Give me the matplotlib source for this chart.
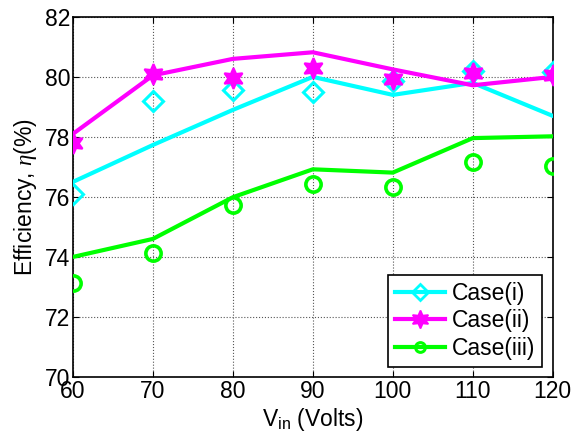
import matplotlib
matplotlib.use("Agg")
import matplotlib.pyplot as plt
from matplotlib.lines import Line2D

plt.rcParams['font.family'] = ['Liberation Sans', 'DejaVu Sans']
plt.rcParams['mathtext.fontset'] = 'custom'
plt.rcParams['mathtext.rm'] = 'Liberation Sans'
plt.rcParams['mathtext.it'] = 'Liberation Serif:italic'

vin = [60, 70, 80, 90, 100, 110, 120]

case1_fit = [76.5, 77.73, 78.9, 80.0, 79.4, 79.8, 78.7]
case1_pts = [76.1, 79.18, 79.55, 79.5, 79.85, 80.2, 80.15]

case2_fit = [78.1, 80.05, 80.6, 80.82, 80.25, 79.72, 80.0]
case2_pts = [77.8, 80.1, 79.95, 80.3, 79.92, 80.12, 80.05]

case3_fit = [74.0, 74.6, 75.99, 76.92, 76.81, 77.96, 78.02]
case3_pts = [73.13, 74.14, 75.74, 76.43, 76.32, 77.18, 77.03]

labels = ['Case(i)', 'Case(ii)', 'Case(iii)']
colors = ['#00ffff', '#ff00ff', '#00ff00']
markers = ['D', (6, 1, 0), 'o']
xticks = [60, 70, 80, 90, 100, 110, 120]
yticks = [70, 72, 74, 76, 78, 80, 82]

fig = plt.figure(figsize=(5.74, 4.44), dpi=100)
ax = fig.add_axes([0.127, 0.151, 0.836, 0.811])

fits = [case1_fit, case2_fit, case3_fit]
pts = [case1_pts, case2_pts, case3_pts]
handles = []
for fit, p, c, m, lab in zip(fits, pts, colors, markers, labels):
    ax.plot(vin, fit, color=c, lw=3, zorder=3)
    if m == 'D':
        ax.plot(vin, p, ls='none', marker=m, ms=10, mfc='none', mec=c, mew=2.2, zorder=4)
        h = Line2D([], [], color=c, lw=3, marker=m, ms=8, mfc='none', mec=c, mew=2.0)
    elif m == 'o':
        ax.plot(vin, p, ls='none', marker=m, ms=11, mfc='none', mec=c, mew=2.6, zorder=4)
        h = Line2D([], [], color=c, lw=3, marker=m, ms=7, mfc='none', mec=c, mew=2.2)
    else:
        ax.plot(vin, p, ls='none', marker=m, ms=15, mfc=c, mec=c, mew=1.5, zorder=5)
        h = Line2D([], [], color=c, lw=3, marker=m, ms=13, mfc=c, mec=c, mew=1.2)
    handles.append(h)

ax.set_xlim(60, 120)
ax.set_ylim(70, 82)
ax.set_xticks(xticks)
ax.set_yticks(yticks)
ax.tick_params(direction='in', top=True, right=True, labelsize=16.5, length=4, pad=2)
ax.grid(True, color='#555555', ls=':', lw=0.8)
for s in ax.spines.values():
    s.set_linewidth(1.2)

ax.set_xlabel('V$_{\\mathrm{in}}$ (Volts)', fontsize=16.5, labelpad=2)
ax.set_ylabel('Efficiency, $\\eta$(%)', fontsize=16.5, labelpad=4)

leg = ax.legend(handles, labels, loc='lower right', fontsize=16.5, frameon=True,
                fancybox=False, edgecolor='black', framealpha=1,
                borderpad=0.3, labelspacing=0.2, handlelength=2.2, handletextpad=0.3,
                borderaxespad=0.45)
leg.get_frame().set_linewidth(1.2)

fig.savefig('out.png', dpi=100)
